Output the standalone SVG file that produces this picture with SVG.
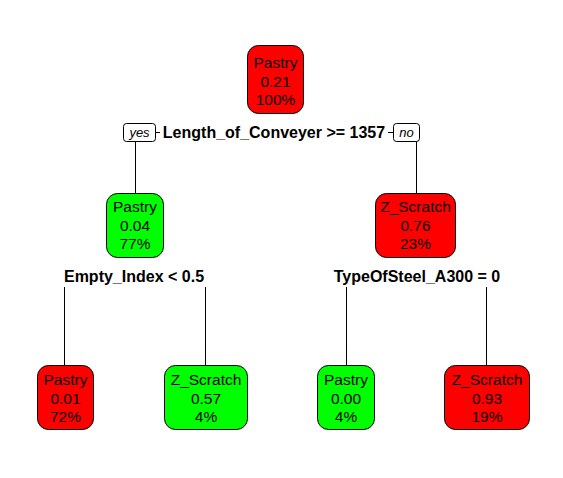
<svg xmlns="http://www.w3.org/2000/svg" width="563" height="478" viewBox="0 0 563 478">
  <style>
    .box { stroke: #000; stroke-width: 1; }
    .red { fill: #FF0000; }
    .green { fill: #00FF00; }
    .nt { font-family: "Liberation Sans", Arial, sans-serif; font-size: 15.5px; fill: #000; text-anchor: middle; }
    .split { font-family: "Liberation Sans", Arial, sans-serif; font-size: 16px; font-weight: bold; fill: #000; text-anchor: middle; }
    .yn { font-family: "Liberation Sans", Arial, sans-serif; font-size: 13px; font-style: italic; fill: #000; text-anchor: middle; }
    .tag { fill: #fff; stroke: #000; stroke-width: 1; }
    .edge { stroke: #000; stroke-width: 1; fill: none; }
  </style>
  <rect width="563" height="478" fill="#fff"/>

  <!-- connectors -->
  <g id="edges">
    <line class="edge" x1="156" y1="132.5" x2="160" y2="132.5"/>
    <line class="edge" x1="388" y1="132.5" x2="393" y2="132.5"/>
    <line class="edge" x1="135.5" y1="141" x2="135.5" y2="193"/>
    <line class="edge" x1="416.5" y1="141" x2="416.5" y2="193"/>
    <line class="edge" x1="64.5" y1="287" x2="64.5" y2="365"/>
    <line class="edge" x1="205.5" y1="287" x2="205.5" y2="365"/>
    <line class="edge" x1="346.5" y1="287" x2="346.5" y2="365"/>
    <line class="edge" x1="486.5" y1="287" x2="486.5" y2="365"/>
    <rect class="tag" x="123.5" y="123.5" width="32" height="18" rx="3"/>
    <text class="yn" x="139.5" y="137">yes</text>
    <rect class="tag" x="393.5" y="123.5" width="26" height="18" rx="3"/>
    <text class="yn" x="406.5" y="137">no</text>
  </g>

  <!-- split labels -->
  <g id="splits">
    <text class="split" x="274" y="138">Length_of_Conveyer &gt;= 1357</text>
    <text class="split" x="134" y="282">Empty_Index &lt; 0.5</text>
    <text class="split" x="417" y="282">TypeOfSteel_A300 = 0</text>
  </g>

  <g id="node-root">
    <rect class="box red" x="247.5" y="45.5" width="56" height="68" rx="11"/>
    <text class="nt" x="275.5" y="68">Pastry</text>
    <text class="nt" x="275.5" y="86.5">0.21</text>
    <text class="nt" x="275.5" y="105">100%</text>
  </g>

  <g id="node-left">
    <rect class="box green" x="106.5" y="193.5" width="57" height="64" rx="11"/>
    <text class="nt" x="135" y="212">Pastry</text>
    <text class="nt" x="135" y="230.5">0.04</text>
    <text class="nt" x="135" y="249">77%</text>
  </g>

  <g id="node-right">
    <rect class="box red" x="375.5" y="193.5" width="80" height="64" rx="11"/>
    <text class="nt" x="415.5" y="212">Z_Scratch</text>
    <text class="nt" x="415.5" y="230.5">0.76</text>
    <text class="nt" x="415.5" y="249">23%</text>
  </g>

  <g id="leaf-1">
    <rect class="box red" x="37.5" y="365.5" width="56" height="64" rx="11"/>
    <text class="nt" x="65.5" y="385">Pastry</text>
    <text class="nt" x="65.5" y="403.5">0.01</text>
    <text class="nt" x="65.5" y="422">72%</text>
  </g>

  <g id="leaf-2">
    <rect class="box green" x="164.5" y="365.5" width="83" height="64" rx="11"/>
    <text class="nt" x="206" y="385">Z_Scratch</text>
    <text class="nt" x="206" y="403.5">0.57</text>
    <text class="nt" x="206" y="422">4%</text>
  </g>

  <g id="leaf-3">
    <rect class="box green" x="317.5" y="365.5" width="57" height="64" rx="11"/>
    <text class="nt" x="346" y="385">Pastry</text>
    <text class="nt" x="346" y="403.5">0.00</text>
    <text class="nt" x="346" y="422">4%</text>
  </g>

  <g id="leaf-4">
    <rect class="box red" x="444.5" y="365.5" width="85" height="64" rx="11"/>
    <text class="nt" x="487" y="385">Z_Scratch</text>
    <text class="nt" x="487" y="403.5">0.93</text>
    <text class="nt" x="487" y="422">19%</text>
  </g>
</svg>
